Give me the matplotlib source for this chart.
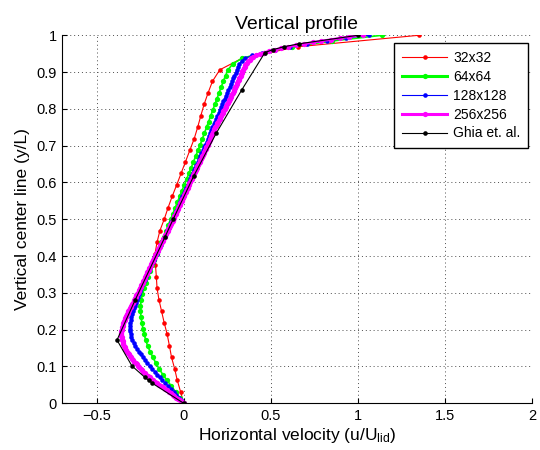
import numpy as np
import matplotlib
matplotlib.use('Agg')
import matplotlib.pyplot as plt

plt.rcParams['font.family'] = ['Liberation Sans', 'DejaVu Sans']
plt.rcParams['mathtext.fontset'] = 'custom'
plt.rcParams['mathtext.rm'] = 'Liberation Sans'
plt.rcParams['mathtext.it'] = 'Liberation Sans:italic'

# ---------------- data ----------------
labels = ['32x32', '64x64', '128x128', '256x256', 'Ghia et. al.']
grid_n = [32, 64, 128, 256]

u_32 = [0.000, -0.018, -0.037, -0.052, -0.070, -0.082, -0.095, -0.112, -0.127,
        -0.142, -0.153, -0.157, -0.162, -0.165, -0.153, -0.137, -0.112, -0.090,
        -0.066, -0.040, -0.015, 0.010, 0.035, 0.060, 0.080, 0.098, 0.117, 0.140,
        0.165, 0.207, 0.335, 0.653, 1.350]

u_64 = [0.000, -0.023, -0.047, -0.071, -0.096, -0.120, -0.141, -0.160, -0.177,
        -0.193, -0.207, -0.218, -0.227, -0.234, -0.240, -0.245, -0.248, -0.248,
        -0.244, -0.237, -0.228, -0.217, -0.205, -0.193, -0.180, -0.168, -0.155,
        -0.142, -0.129, -0.116, -0.102, -0.089, -0.075, -0.062, -0.049, -0.036,
        -0.023, -0.010, 0.004, 0.017, 0.030, 0.043, 0.056, 0.069, 0.082, 0.095,
        0.107, 0.119, 0.131, 0.143, 0.155, 0.167, 0.179, 0.191, 0.203, 0.215,
        0.227, 0.240, 0.255, 0.280, 0.335, 0.460, 0.620, 0.850, 1.137]

u_128 = [0.000, -0.014, -0.028, -0.042, -0.057, -0.073, -0.089, -0.106, -0.122,
         -0.138, -0.153, -0.167, -0.181, -0.194, -0.208, -0.221, -0.234, -0.246,
         -0.258, -0.269, -0.279, -0.287, -0.295, -0.301, -0.305, -0.308, -0.309,
         -0.308, -0.306, -0.303, -0.300, -0.296, -0.292, -0.287, -0.281, -0.276,
         -0.270, -0.264, -0.258, -0.251, -0.244, -0.237, -0.231, -0.224, -0.217,
         -0.210, -0.202, -0.195, -0.187, -0.179, -0.172, -0.164, -0.156, -0.148,
         -0.140, -0.133, -0.125, -0.117, -0.109, -0.102, -0.094, -0.087, -0.079,
         -0.072, -0.064, -0.057, -0.050, -0.043, -0.035, -0.028, -0.021, -0.014,
         -0.007, 0.000, 0.008, 0.015, 0.022, 0.029, 0.036, 0.044, 0.051, 0.058,
         0.066, 0.073, 0.080, 0.088, 0.095, 0.102, 0.109, 0.117, 0.124, 0.131,
         0.138, 0.144, 0.151, 0.158, 0.165, 0.172, 0.179, 0.186, 0.193, 0.200,
         0.207, 0.214, 0.221, 0.228, 0.235, 0.242, 0.249, 0.256, 0.263, 0.270,
         0.277, 0.284, 0.291, 0.298, 0.305, 0.311, 0.318, 0.332, 0.352, 0.392,
         0.450, 0.525, 0.610, 0.710, 0.820, 0.930, 1.063]

u_256 = [0.000, -0.011, -0.021, -0.032, -0.042, -0.053, -0.064, -0.075, -0.085,
         -0.096, -0.107, -0.119, -0.130, -0.142, -0.153, -0.165, -0.175, -0.185,
         -0.195, -0.205, -0.215, -0.223, -0.231, -0.238, -0.246, -0.254, -0.262,
         -0.269, -0.276, -0.284, -0.291, -0.298, -0.304, -0.310, -0.315, -0.321,
         -0.327, -0.331, -0.335, -0.339, -0.343, -0.347, -0.349, -0.351, -0.353,
         -0.355, -0.357, -0.358, -0.359, -0.359, -0.358, -0.357, -0.355, -0.353,
         -0.350, -0.348, -0.346, -0.343, -0.339, -0.336, -0.332, -0.329, -0.325,
         -0.321, -0.317, -0.313, -0.309, -0.305, -0.301, -0.296, -0.292, -0.288,
         -0.284, -0.280, -0.275, -0.271, -0.266, -0.262, -0.258, -0.254, -0.251,
         -0.247, -0.243, -0.239, -0.236, -0.232, -0.228, -0.224, -0.221, -0.217,
         -0.213, -0.209, -0.205, -0.201, -0.198, -0.194, -0.190, -0.186, -0.182,
         -0.178, -0.175, -0.171, -0.167, -0.163, -0.159, -0.155, -0.150, -0.146,
         -0.142, -0.138, -0.134, -0.130, -0.126, -0.121, -0.117, -0.113, -0.109,
         -0.105, -0.101, -0.097, -0.093, -0.089, -0.084, -0.080, -0.076, -0.072,
         -0.068, -0.064, -0.060, -0.056, -0.053, -0.049, -0.045, -0.042, -0.038,
         -0.034, -0.030, -0.027, -0.023, -0.019, -0.016, -0.012, -0.008, -0.004,
         -0.001, 0.003, 0.007, 0.011, 0.014, 0.018, 0.022, 0.026, 0.029, 0.033,
         0.037, 0.041, 0.045, 0.048, 0.052, 0.056, 0.060, 0.064, 0.068, 0.071,
         0.075, 0.079, 0.083, 0.087, 0.091, 0.095, 0.099, 0.103, 0.107, 0.110,
         0.114, 0.118, 0.122, 0.126, 0.130, 0.134, 0.138, 0.141, 0.145, 0.148,
         0.152, 0.155, 0.159, 0.162, 0.166, 0.169, 0.173, 0.176, 0.180, 0.184,
         0.189, 0.193, 0.198, 0.202, 0.206, 0.211, 0.215, 0.219, 0.224, 0.228,
         0.233, 0.237, 0.241, 0.245, 0.249, 0.253, 0.257, 0.261, 0.266, 0.270,
         0.274, 0.278, 0.282, 0.286, 0.290, 0.294, 0.297, 0.301, 0.304, 0.308,
         0.311, 0.315, 0.319, 0.322, 0.326, 0.329, 0.333, 0.337, 0.341, 0.345,
         0.349, 0.353, 0.357, 0.364, 0.371, 0.378, 0.385, 0.398, 0.415, 0.436,
         0.460, 0.490, 0.524, 0.561, 0.600, 0.644, 0.690, 0.739, 0.790, 0.843,
         0.896, 0.950, 1.027]

ghia_y = [0.0000, 0.0547, 0.0625, 0.0703, 0.1016, 0.1719, 0.2813, 0.4531, 0.5000,
          0.6172, 0.7344, 0.8516, 0.9531, 0.9609, 0.9688, 0.9766, 1.0000]
ghia_u = [0.0, -0.18109, -0.20196, -0.22220, -0.29730, -0.38289, -0.27805,
          -0.10648, -0.06080, 0.05702, 0.18719, 0.33304, 0.46604, 0.51117,
          0.57492, 0.65928, 1.0]

xticks = [-0.5, 0, 0.5, 1, 1.5, 2]
xtick_labels = ['\u22120.5', '0', '0.5', '1', '1.5', '2']
yticks = [0, 0.1, 0.2, 0.3, 0.4, 0.5, 0.6, 0.7, 0.8, 0.9, 1]
ytick_labels = ['0', '0.1', '0.2', '0.3', '0.4', '0.5', '0.6', '0.7', '0.8', '0.9', '1']

# ---------------- plot ----------------
fig = plt.figure(figsize=(5.4, 4.5), dpi=100)
ax = fig.add_axes([0.1143, 0.1038, 0.8714, 0.8178])

series = [u_32, u_64, u_128, u_256]
colors = ['#ff0000', '#00ff00', '#0000ff', '#ff00ff']
lws = [0.8, 1.2, 0.8, 1.8]
mss = [3.3, 3.8, 3.3, 3.8]
for u, n, c, lw, ms, lab in zip(series, grid_n, colors, lws, mss, labels[:4]):
    y = np.arange(n + 1) / n
    ax.plot(u, y, '-', color=c, lw=lw, marker='o', ms=ms, mec='none',
            mfc=c, label=lab)
ax.plot(ghia_u, ghia_y, '-', color='k', lw=0.8, marker='o', ms=3.3,
        mec='none', mfc='k', label=labels[4])

ax.set_xlim(-0.7, 2)
ax.set_ylim(0, 1)
ax.set_xticks(xticks)
ax.set_xticklabels(xtick_labels)
ax.set_yticks(yticks)
ax.set_yticklabels(ytick_labels)

for s in ['top', 'right']:
    ax.spines[s].set_visible(False)
for s in ['left', 'bottom']:
    ax.spines[s].set_linewidth(0.8)
ax.tick_params(direction='in', length=3.6, width=0.8, labelsize=10.5,
               top=False, right=False)
ax.tick_params(axis='x', pad=4)
ax.tick_params(axis='y', pad=3.5)
ax.grid(True, color='0.3', linestyle=(0, (1, 3)), linewidth=0.7)
ax.set_axisbelow(True)

ax.set_title('Vertical profile', fontsize=14, pad=4.5)
ax.set_xlabel('Horizontal velocity (u/U$_{\\mathrm{lid}}$)', fontsize=12.5,
              labelpad=2)
ax.set_ylabel('Vertical center line (y/L)', fontsize=12.5, labelpad=5)

leg = ax.legend(loc='upper right', bbox_to_anchor=(0.9915, 0.978),
                borderaxespad=0, fontsize=10, fancybox=False, framealpha=1,
                edgecolor='k', handlelength=3.25, handletextpad=0.45,
                labelspacing=0.35, borderpad=0.55, numpoints=1)
leg.get_frame().set_linewidth(1.0)
for h, lw in zip(leg.legend_handles, [0.8, 2.2, 0.8, 2.2, 0.8]):
    h.set_linewidth(lw)

fig.savefig('out.png', dpi=100)
